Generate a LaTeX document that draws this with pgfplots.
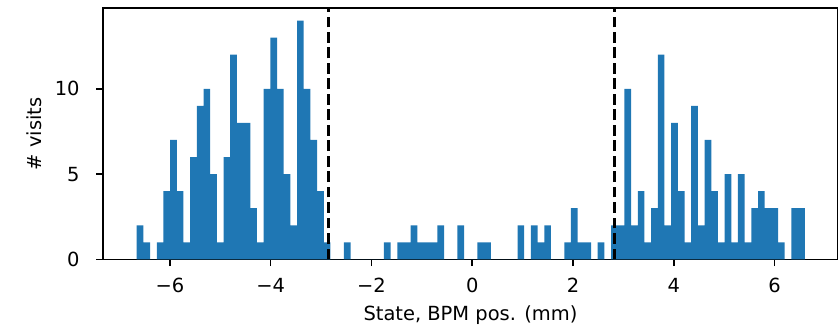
\documentclass[border=0pt]{standalone}
\usepackage{fontspec}
\setmainfont{DejaVu Sans}
\usepackage{pgfplots}
\pgfplotsset{compat=1.18}
\usepackage{pgfplotstable}
\definecolor{tabblue}{HTML}{1F77B4}
\pgfplotstableread{
x count
-6.659 2
-6.526 1
-6.394 0
-6.261 1
-6.129 4
-5.996 7
-5.863 4
-5.731 1
-5.598 6
-5.466 9
-5.333 10
-5.200 5
-5.068 1
-4.935 6
-4.803 12
-4.670 8
-4.537 8
-4.405 3
-4.272 1
-4.140 10
-4.007 13
-3.874 10
-3.742 5
-3.609 2
-3.477 14
-3.344 10
-3.211 7
-3.079 4
-2.946 1
-2.814 0
-2.681 0
-2.548 1
-2.416 0
-2.283 0
-2.151 0
-2.018 0
-1.885 0
-1.753 1
-1.620 0
-1.488 1
-1.355 1
-1.222 2
-1.090 1
-0.957 1
-0.825 1
-0.692 2
-0.559 0
-0.427 0
-0.294 2
-0.162 0
-0.029 0
0.104 1
0.236 1
0.369 0
0.501 0
0.634 0
0.767 0
0.899 2
1.032 0
1.164 2
1.297 1
1.430 2
1.562 0
1.695 0
1.827 1
1.960 3
2.093 1
2.225 1
2.358 0
2.490 1
2.623 0
2.756 2
2.888 2
3.021 10
3.153 2
3.286 4
3.419 1
3.551 3
3.684 12
3.816 2
3.949 8
4.082 4
4.214 1
4.347 9
4.479 2
4.612 7
4.745 4
4.877 1
5.010 5
5.142 1
5.275 5
5.408 1
5.540 3
5.673 4
5.805 3
5.938 3
6.071 1
6.203 0
6.336 3
6.468 3
6.601 0
}\histdata
\begin{document}
\begin{tikzpicture}
\begin{axis}[
  at={(0,0)}, anchor=south west,
  scale only axis,
  width=377.8pt, height=129.2pt,
  xmin=-7.33, xmax=7.26,
  ymin=0, ymax=14.74,
  axis line style={line width=0.8pt},
  tick style={black, line width=0.8pt},
  tick align=outside,
  major tick length=3.5pt,
  xtick={-6,-4,-2,0,2,4,6},
  xticklabels={−6,−4,−2,0,2,4,6},
  ytick={0,5,10},
  yticklabels={0,5,10},
  xtick pos=bottom, ytick pos=left,
  ticklabel style={font=\fontsize{10}{12}\selectfont},
  xticklabel style={yshift=-2.5pt},
  yticklabel style={xshift=-5pt},
  label style={font=\fontsize{10}{12}\selectfont},
  xlabel={State, BPM pos. (mm)},
  ylabel={\# visits},
  clip=true,
]
\addplot[ybar interval, fill=tabblue, draw=none] table[x=x, y=count] {\histdata};
\addplot[black, line width=1.5pt, dash pattern=on 5.55pt off 2.4pt] coordinates {(-2.85,0) (-2.85,14.74)};
\addplot[black, line width=1.5pt, dash pattern=on 5.55pt off 2.4pt] coordinates {(2.83,0) (2.83,14.74)};
\end{axis}
\pgfresetboundingbox
\path (-52.9pt,-35.3pt) rectangle (377.8pt,133.3pt);
\end{tikzpicture}
\end{document}
